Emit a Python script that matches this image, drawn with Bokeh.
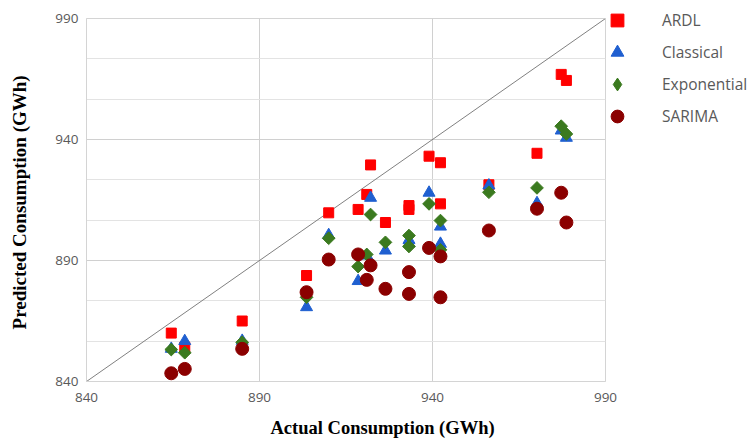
import math
from bokeh.plotting import figure
from bokeh.models import Range1d, FixedTicker, Legend, LegendItem, Title
from bokeh.embed import file_html
from bokeh.resources import INLINE

# ---- data ----
actual = [864.5, 868.4, 885.0, 903.6, 910.0, 918.5, 921.0, 922.1, 926.4,
          933.2, 933.2, 939.0, 942.3, 942.3, 956.3, 970.2, 977.2, 978.7]
ardl = [860.0, 854.2, 865.0, 883.8, 909.7, 911.1, 917.3, 929.5, 905.7,
        912.7, 911.1, 933.1, 930.4, 913.4, 921.3, 934.3, 966.9, 964.4]
classical = [853.5, 856.7, 856.8, 870.7, 900.5, 881.5, 892.0, 915.9, 894.1,
             897.1, 898.5, 918.0, 904.0, 896.9, 921.0, 913.7, 943.7, 940.7]
exponential = [853.2, 851.9, 856.2, 874.8, 899.2, 887.5, 892.5, 909.0, 897.5,
               900.3, 895.8, 913.4, 906.5, 894.4, 918.2, 920.0, 945.5, 942.3]
sarima = [843.4, 845.2, 853.5, 876.9, 890.4, 892.5, 882.0, 888.0, 878.3,
          885.2, 876.2, 895.2, 891.7, 874.8, 902.4, 911.4, 918.0, 905.7]

axis_min, axis_max = 840, 990
major_ticks = [840, 890, 940, 990]
minor_y = [840 + 50 * k / 3 for k in range(10)]
x_title = "Actual Consumption (GWh)"
y_title = "Predicted  Consumption (GWh)"

p = figure(frame_width=519, frame_height=363, output_backend="svg", toolbar_location=None,
           x_range=Range1d(axis_min, axis_max), y_range=Range1d(axis_min, axis_max),
           min_border_left=86, min_border_right=140, min_border_top=18, min_border_bottom=59)
p.background_fill_color = "white"
p.border_fill_color = "white"
p.outline_line_color = "#d4d4d4"

major_col = "#d0d0d0"
minor_col = "#e3e3e3"
p.xaxis.ticker = FixedTicker(ticks=major_ticks)
p.yaxis.ticker = FixedTicker(ticks=major_ticks, minor_ticks=minor_y)
p.xgrid.grid_line_color = major_col
p.ygrid.grid_line_color = major_col
p.ygrid.minor_grid_line_color = minor_col

for ax in (p.xaxis, p.yaxis):
    ax.axis_line_color = "#d4d4d4"
    ax.major_tick_out = 0
    ax.major_tick_in = 0
    ax.minor_tick_out = 0
    ax.minor_tick_in = 0
    ax.major_label_text_font = "Open Sans"
    ax.major_label_text_font_size = "13.5px"
    ax.major_label_text_color = "#595959"
    ax.axis_label_text_font = "Liberation Serif"
    ax.axis_label_text_font_style = "bold"
    ax.axis_label_text_color = "#000000"

p.yaxis.axis_label = y_title
p.yaxis.axis_label_text_font_size = "19px"
p.xaxis.major_label_standoff = 11
p.yaxis.major_label_standoff = 8
p.yaxis.axis_label_standoff = 22

# x-axis title sits right of centre in the reference
xt = Title(text=x_title, align="left", offset=184, standoff=22,
           text_font="Liberation Serif", text_font_style="bold",
           text_font_size="18.5px", text_color="#000000")
p.add_layout(xt, "below")

# diagonal y = x reference line
p.line([axis_min, axis_max], [axis_min, axis_max], line_color="#808080", line_width=1)

red, blue, green, dred = "#ff0000", "#1f5fd0", "#3b7a1f", "#8b0000"
r1 = p.scatter(actual, ardl, marker="square", size=10, fill_color=red, line_color=red)
r2 = p.scatter(actual, classical, marker="triangle", size=12, fill_color=blue, line_color=blue)
r3 = p.scatter(actual, exponential, marker="square", angle=math.pi / 4, size=9,
               fill_color=green, line_color=green)
r4 = p.scatter(actual, sarima, marker="circle", size=13, fill_color=dred, line_color=dred)
# legend swatch for the diamond series (renderer with no visible point)
r3_leg = p.scatter([float("nan")], [float("nan")], marker="diamond", size=12,
                   fill_color=green, line_color=green)

legend = Legend(items=[LegendItem(label="ARDL", renderers=[r1]),
                       LegendItem(label="Classical", renderers=[r2]),
                       LegendItem(label="Exponential", renderers=[r3_leg]),
                       LegendItem(label="SARIMA", renderers=[r4])],
                location=(-4, 249))
legend.border_line_color = None
legend.background_fill_alpha = 0
legend.padding = 0
legend.margin = 0
legend.glyph_width = 32
legend.glyph_height = 32
legend.spacing = 0
legend.label_standoff = 29
legend.label_text_font = "Open Sans"
legend.label_text_font_size = "15.5px"
legend.label_text_color = "#595959"
p.add_layout(legend, "right")

open("out.html", "w").write(file_html(p, INLINE))
